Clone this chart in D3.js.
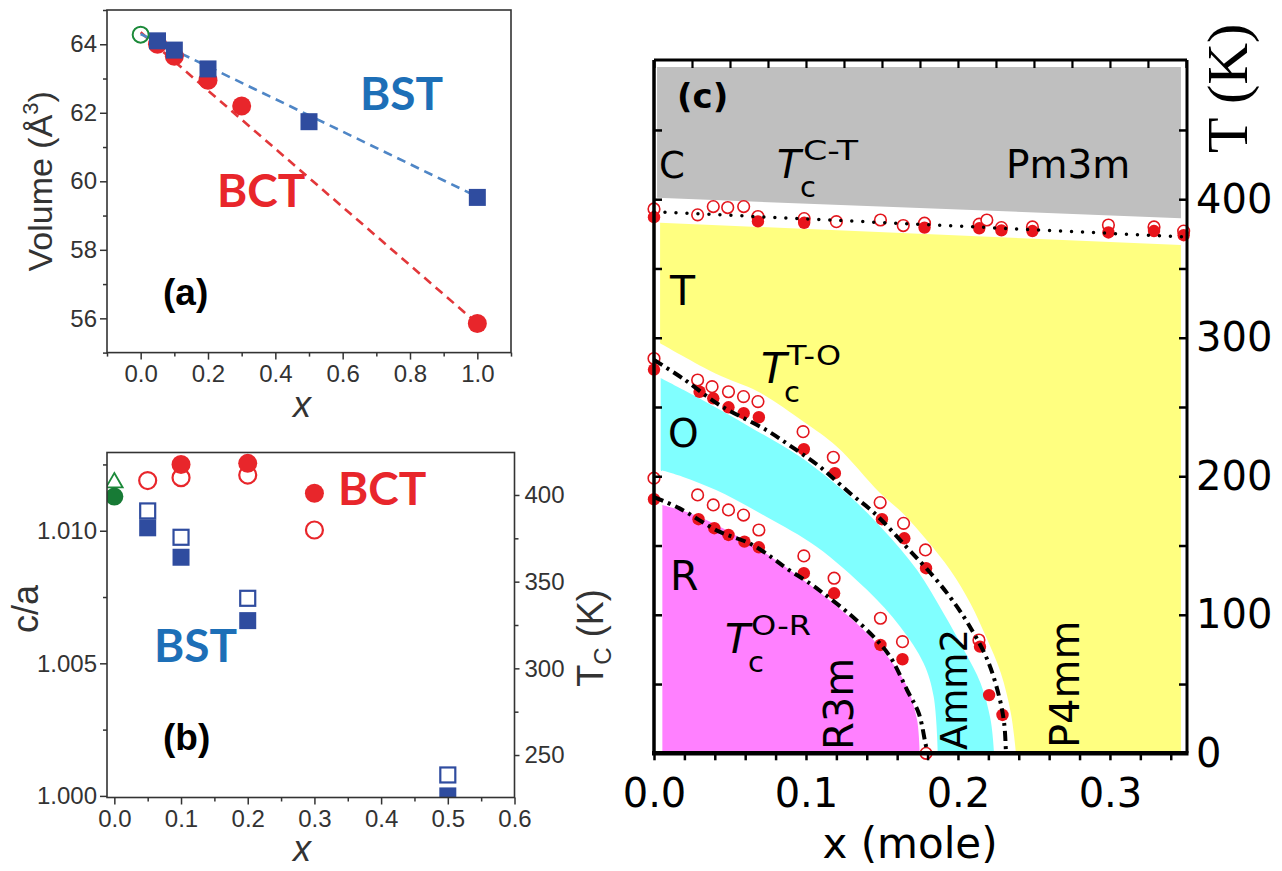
<!DOCTYPE html>
<html>
<head>
<meta charset="utf-8">
<script src="https://cdn.jsdelivr.net/npm/d3@7/dist/d3.min.js"></script>
<style>
  html,body{margin:0;padding:0;background:#fff;}
  svg{display:block;}
</style>
</head>
<body>
<svg id="fig" width="1282" height="871"></svg>
<script>
/* ---------------- (a) unit-cell volume vs x ---------------- */
const aBctX = [0.05, 0.1, 0.2, 0.3, 1.0];
const aBctV = [64.0, 63.65, 62.95, 62.2, 55.85];
const aBstX = [0.05, 0.1, 0.2, 0.5, 1.0];
const aBstV = [64.1, 63.83, 63.28, 61.74, 59.53];
const aBtX = [0.0];
const aBtV = [64.28];
const aFitX = [0.0, 1.0];
const aFitBct = [64.35, 55.85];
const aFitBst = [64.3, 59.55];
const aXTicks = [0, 0.2, 0.4, 0.6, 0.8, 1.0];
const aXMinor = [-0.1, 0.1, 0.3, 0.5, 0.7, 0.9, 1.1];
const aYTicks = [56, 58, 60, 62, 64];
const aYMinor = [55, 57, 59, 61, 63, 65];

/* ---------------- (b) tetragonality and Tc vs x ---------------- */
const bBctX = [0.1, 0.2, 0.3];
const bBctCa = [1.0125, 1.01254, 1.01141];
const bBctTcX = [0.05, 0.1, 0.2, 0.3];
const bBctTc = [408.3, 410.0, 411.5, 379.8];
const bBstX = [0.05, 0.1, 0.2, 0.5];
const bBstCa = [1.01011, 1.0090, 1.00661, 1.0000];
const bBstTcX = [0.05, 0.1, 0.2, 0.5];
const bBstTc = [390.8, 375.6, 340.4, 238.5];
const bBtX = [0.0];
const bBtCa = [1.01129];
const bBtTc = [407.1];
const bXTicks = [0, 0.1, 0.2, 0.3, 0.4, 0.5, 0.6];
const bXMinor = [0.05, 0.15, 0.25, 0.35, 0.45, 0.55];
const bYTicks = [1.000, 1.005, 1.010];
const bYMinor = [1.0025, 1.0075, 1.0125];
const bTcTicks = [250, 300, 350, 400];
const bTcMinor = [275, 325, 375];

/* ---------------- (c) phase diagram T vs x ---------------- */
// phase-field outlines
const cubicX = [0.002, 0.3467];
const cubicTop = [495.5, 495.5];
const cubicBottom = [401, 386.3];
const tetraX = [0.004, 0.3467];
const tetraTop = [383, 367];
const tetraEdgeX = [0.004, 0.0408, 0.0686, 0.0982, 0.1202, 0.1487, 0.164, 0.1794, 0.1951, 0.2083, 0.2189, 0.2282, 0.2348, 0.2381];
const tetraEdgeT = [296, 274, 261, 239.5, 221.5, 188, 173, 154, 132, 108, 83, 58, 29, 1.5];
const orthoTopX = [0.0044, 0.0298, 0.0628, 0.0959, 0.129, 0.151, 0.1731, 0.1906, 0.2039, 0.2149, 0.2215, 0.2237];
const orthoTopT = [271, 256.3, 235.8, 214.2, 185.3, 161.2, 132.3, 101, 74.6, 50.5, 24, 1.5];
const orthoLowX = [0.0044, 0.0187, 0.0408, 0.0739, 0.107, 0.1401, 0.162, 0.1774, 0.184, 0.1867];
const orthoLowT = [204.5, 199.7, 190, 170.8, 149.2, 118, 91.4, 65, 41, 1.5];
const rhomboX = [0.0055, 0.0298, 0.0628, 0.0893, 0.1179, 0.1401, 0.1554, 0.1665, 0.1731, 0.1748];
const rhomboT = [179.3, 170.8, 151.6, 132.3, 108.3, 86.6, 67.4, 48.1, 24, 1.5];
const phaseFloor = 1.5;
// transition lines
const ctLineX = [0, 0.3507];
const ctLineT = [391, 372.7];
const toLineX = [0, 0.0187, 0.043, 0.0738, 0.0904, 0.109, 0.129, 0.1444, 0.1665, 0.184, 0.1962, 0.2072, 0.2194, 0.2271, 0.2304, 0.2315];
const toLineT = [284, 270.8, 251.5, 233.4, 221.4, 207, 187.7, 174, 148.5, 127.5, 110.7, 92.6, 67.4, 40.9, 21.7, 2];
const orLineX = [0, 0.0165, 0.043, 0.0628, 0.0783, 0.0871, 0.1025, 0.1114, 0.1268, 0.1444, 0.1554, 0.1665, 0.1742, 0.1786, 0.180];
const orLineT = [185, 177, 160, 151.6, 140.8, 133.6, 122.7, 115.5, 102.2, 84.2, 69.7, 45.7, 28.9, 7.2, 0];
// measured transition temperatures
const ctOpenX = [0, 0.0287, 0.039, 0.0485, 0.059, 0.0684, 0.0988, 0.120, 0.149, 0.164, 0.178, 0.214, 0.219, 0.2286, 0.249, 0.299, 0.329, 0.3485];
const ctOpenT = [393, 388.7, 394.7, 394, 394.7, 387.5, 386, 383.8, 385, 381, 382.7, 382, 385, 379.5, 380, 381.4, 380, 377];
const ctFillX = [0, 0.0684, 0.0988, 0.178, 0.214, 0.2286, 0.249, 0.299, 0.329, 0.3485];
const ctFillT = [387, 384, 383, 379.5, 379, 377.5, 377, 376, 377, 374];
const toOpenX = [0, 0.0287, 0.0382, 0.049, 0.0589, 0.0684, 0.0981, 0.118, 0.1488, 0.1642, 0.1786, 0.2138];
const toOpenT = [285, 269.5, 264.7, 261, 257.5, 253.9, 232.2, 213.7, 181, 166, 146.8, 81.8];
const toFillX = [0, 0.03, 0.039, 0.049, 0.059, 0.069, 0.0986, 0.119, 0.150, 0.1647, 0.179, 0.2145, 0.2205, 0.2293];
const toFillT = [277, 261, 256.3, 249.8, 245.5, 242.6, 219.5, 202.2, 169, 155.2, 133.6, 77, 42, 27.7];
const orOpenX = [0, 0.0287, 0.039, 0.049, 0.0589, 0.069, 0.0986, 0.1185, 0.149, 0.1635, 0.179];
const orOpenT = [198.6, 186.5, 179.3, 175.7, 172, 161.2, 142.5, 126.4, 97.5, 80.6, 0];
const orFillX = [0, 0.0293, 0.0397, 0.049, 0.0595, 0.069, 0.0986, 0.1185, 0.149, 0.1635];
const orFillT = [183.4, 169, 162.5, 157.6, 152.8, 148.7, 130, 115.5, 78.2, 67.9];
const cXLabels = [0, 0.1, 0.2, 0.3];
const cXTicks = d3.range(0, 0.341, 0.02);
const cXTopTicks = d3.range(0, 0.351, 0.025);
const cTLabels = [0, 100, 200, 300, 400];
const cTTicks = [50, 100, 150, 200, 250, 300, 350, 400, 450];

/* ---------------- styling ---------------- */
const AX = "#333";
const SANS = "'Liberation Sans', Arial, sans-serif";
const CAL = "Lato, 'Liberation Sans', sans-serif";
const DJ = "'DejaVu Sans', sans-serif";
const RED = "#e8262b", NAVY = "#2f4c9f", BLUE_TXT = "#1d6fb7", GREEN = "#1c8a3a";

const svg = d3.select("#fig");
const defs = svg.append("defs");
const zip = (xs, ys) => xs.map((x, i) => [x, ys[i]]);

function styleAxis(g, font, size, color, w) {
  g.select(".domain").remove();
  g.selectAll("line").attr("stroke", color).attr("stroke-width", w || 1.5);
  g.selectAll("text").attr("font-family", font).attr("font-size", size).attr("fill", color);
}
function frame(g, xs, ys, color, w) {
  const [x0, x1] = xs.range(), [y0, y1] = ys.range();
  g.append("rect").attr("x", Math.min(x0, x1)).attr("y", Math.min(y0, y1))
    .attr("width", Math.abs(x1 - x0)).attr("height", Math.abs(y1 - y0))
    .attr("fill", "none").attr("stroke", color).attr("stroke-width", w);
}
function clipFor(id, xs, ys) {
  const [x0, x1] = xs.range(), [y0, y1] = ys.range();
  defs.append("clipPath").attr("id", id).append("rect")
    .attr("x", x0).attr("y", y1).attr("width", x1 - x0).attr("height", y0 - y1);
}
function label(g, txt, x, y, opt) {
  const t = g.append("text").attr("x", x).attr("y", y).text(txt)
    .attr("font-family", opt.font).attr("font-size", opt.size)
    .attr("fill", opt.fill || "#000");
  if (opt.weight) t.attr("font-weight", opt.weight);
  if (opt.style) t.attr("font-style", opt.style);
  if (opt.anchor) t.attr("text-anchor", opt.anchor);
  return t;
}

/* ================= panel (a) ================= */
const xA = d3.scaleLinear([-0.1, 1.1], [107, 511]);
const yA = d3.scaleLinear([55, 65], [352.6, 10]);
const gA = svg.append("g");
clipFor("clipA", xA, yA);

gA.append("g").attr("transform", `translate(0,${yA.range()[0]})`)
  .call(d3.axisBottom(xA).tickValues(aXTicks).tickSize(7).tickPadding(5).tickFormat(d3.format(".1f")))
  .call(g => styleAxis(g, SANS, 24, AX));
gA.append("g").attr("transform", `translate(0,${yA.range()[0]})`)
  .call(d3.axisBottom(xA).tickValues(aXMinor).tickSize(4).tickFormat(""))
  .call(g => styleAxis(g, SANS, 24, AX));
gA.append("g").attr("transform", `translate(${xA.range()[0]},0)`)
  .call(d3.axisLeft(yA).tickValues(aYTicks).tickSize(7).tickPadding(3).tickFormat(d3.format("d")))
  .call(g => styleAxis(g, SANS, 24, AX));
gA.append("g").attr("transform", `translate(${xA.range()[0]},0)`)
  .call(d3.axisLeft(yA).tickValues(aYMinor).tickSize(4).tickFormat(""))
  .call(g => styleAxis(g, SANS, 24, AX));

const lineA = d3.line().x(d => xA(d[0])).y(d => yA(d[1]));
const pA = gA.append("g").attr("clip-path", "url(#clipA)");
pA.append("path").attr("d", lineA(zip(aFitX, aFitBct))).attr("fill", "none")
  .attr("stroke", "#e2373a").attr("stroke-width", 2.6).attr("stroke-dasharray", "9 6");
pA.append("path").attr("d", lineA(zip(aFitX, aFitBst))).attr("fill", "none")
  .attr("stroke", "#4f86c6").attr("stroke-width", 2.6).attr("stroke-dasharray", "9 6");
pA.selectAll("circle.bct").data(zip(aBctX, aBctV)).join("circle")
  .attr("cx", d => xA(d[0])).attr("cy", d => yA(d[1])).attr("r", 9.5).attr("fill", RED);
pA.selectAll("rect.bst").data(zip(aBstX, aBstV)).join("rect")
  .attr("x", d => xA(d[0]) - 8.5).attr("y", d => yA(d[1]) - 8.5)
  .attr("width", 17).attr("height", 17).attr("fill", NAVY);
pA.selectAll("circle.bt").data(zip(aBtX, aBtV)).join("circle")
  .attr("cx", d => xA(d[0])).attr("cy", d => yA(d[1])).attr("r", 8)
  .attr("fill", "none").attr("stroke", GREEN).attr("stroke-width", 2);
frame(gA, xA, yA, AX, 1.6);

const volLab = gA.append("text")
  .attr("transform", `translate(52,${(yA.range()[0] + yA.range()[1]) / 2}) rotate(-90)`)
  .attr("text-anchor", "middle").attr("font-family", SANS).attr("font-size", 34).attr("fill", AX);
volLab.append("tspan").text("Volume (Å");
volLab.append("tspan").text("3").attr("font-size", 22).attr("dy", -14);
volLab.append("tspan").text(")").attr("dy", 14);
label(gA, "x", 302, 417, { font: SANS, size: 36, style: "italic", anchor: "middle", fill: AX });
label(gA, "BST", 360, 110, { font: CAL, size: 46, weight: 700, fill: BLUE_TXT });
label(gA, "BCT", 217, 207, { font: CAL, size: 46, weight: 700, fill: RED });
label(gA, "(a)", 163, 305, { font: SANS, size: 37, weight: 700 });

/* ================= panel (b) ================= */
const xB = d3.scaleLinear([-0.011, 0.6], [107, 514.5]);
const yB = d3.scaleLinear([0.99994, 1.01295], [797.5, 452.5]);
const tB = d3.scaleLinear([225.5, 424.5], [797.5, 452.5]);
const gB = svg.append("g");
clipFor("clipB", xB, yB);

gB.append("g").attr("transform", `translate(0,${yB.range()[0]})`)
  .call(d3.axisBottom(xB).tickValues(bXTicks).tickSize(7).tickPadding(5).tickFormat(d3.format(".1f")))
  .call(g => styleAxis(g, SANS, 24, AX));
gB.append("g").attr("transform", `translate(0,${yB.range()[0]})`)
  .call(d3.axisBottom(xB).tickValues(bXMinor).tickSize(4).tickFormat(""))
  .call(g => styleAxis(g, SANS, 24, AX));
gB.append("g").attr("transform", `translate(${xB.range()[0]},0)`)
  .call(d3.axisLeft(yB).tickValues(bYTicks).tickSize(7).tickPadding(3).tickFormat(d3.format(".3f")))
  .call(g => styleAxis(g, SANS, 24, AX));
gB.append("g").attr("transform", `translate(${xB.range()[0]},0)`)
  .call(d3.axisLeft(yB).tickValues(bYMinor).tickSize(4).tickFormat(""))
  .call(g => styleAxis(g, SANS, 24, AX));
gB.append("g").attr("transform", `translate(${xB.range()[1]},0)`)
  .call(d3.axisRight(tB).tickValues(bTcTicks).tickSize(5).tickPadding(5).tickFormat(d3.format("d")))
  .call(g => styleAxis(g, SANS, 24, AX));
gB.append("g").attr("transform", `translate(${xB.range()[1]},0)`)
  .call(d3.axisRight(tB).tickValues(bTcMinor).tickSize(4).tickFormat(""))
  .call(g => styleAxis(g, SANS, 24, AX));

const pB = gB.append("g").attr("clip-path", "url(#clipB)");
// open symbols: Tc on the right axis
pB.selectAll("circle.tcbct").data(zip(bBctTcX, bBctTc)).join("circle")
  .attr("cx", d => xB(d[0])).attr("cy", d => tB(d[1])).attr("r", 8.5)
  .attr("fill", "none").attr("stroke", RED).attr("stroke-width", 2.2);
pB.selectAll("rect.tcbst").data(zip(bBstTcX, bBstTc)).join("rect")
  .attr("x", d => xB(d[0]) - 7.5).attr("y", d => tB(d[1]) - 7.5)
  .attr("width", 15).attr("height", 15)
  .attr("fill", "none").attr("stroke", NAVY).attr("stroke-width", 2.2);
pB.selectAll("path.tcbt").data(zip(bBtX, bBtTc)).join("path")
  .attr("transform", d => `translate(${xB(d[0])},${tB(d[1])})`)
  .attr("d", d3.symbol(d3.symbolTriangle).size(120)())
  .attr("fill", "none").attr("stroke", GREEN).attr("stroke-width", 1.8);
// filled symbols: c/a on the left axis
pB.selectAll("circle.cabct").data(zip(bBctX, bBctCa)).join("circle")
  .attr("cx", d => xB(d[0])).attr("cy", d => yB(d[1])).attr("r", 9.5).attr("fill", RED);
pB.selectAll("rect.cabst").data(zip(bBstX, bBstCa)).join("rect")
  .attr("x", d => xB(d[0]) - 8.5).attr("y", d => yB(d[1]) - 8.5)
  .attr("width", 17).attr("height", 17).attr("fill", NAVY);
pB.selectAll("circle.cabt").data(zip(bBtX, bBtCa)).join("circle")
  .attr("cx", d => xB(d[0])).attr("cy", d => yB(d[1])).attr("r", 9).attr("fill", "#177a35");
frame(gB, xB, yB, AX, 1.6);

gB.append("text").attr("transform", `translate(38,609) rotate(-90)`)
  .attr("text-anchor", "middle").attr("font-family", SANS).attr("font-size", 36).attr("fill", AX)
  .text("c/a");
label(gB, "x", 302, 861, { font: SANS, size: 36, style: "italic", anchor: "middle", fill: AX });
const tcLab = gB.append("text").attr("transform", `translate(603,638) rotate(-90)`)
  .attr("text-anchor", "middle").attr("font-family", SANS).attr("font-size", 36).attr("fill", AX);
tcLab.append("tspan").text("T");
tcLab.append("tspan").text("C").attr("font-size", 24).attr("dy", 8);
tcLab.append("tspan").text(" (K)").attr("dy", -8);
label(gB, "BCT", 338, 505, { font: CAL, size: 46, weight: 700, fill: RED });
label(gB, "BST", 154, 662, { font: CAL, size: 46, weight: 700, fill: BLUE_TXT });
label(gB, "(b)", 163, 750, { font: SANS, size: 37, weight: 700 });

/* ================= panel (c) ================= */
const xC = d3.scaleLinear([0, 0.3507], [654, 1187]);
const yC = d3.scaleLinear([0, 500.5], [753.3, 60]);
const gC = svg.append("g");

const straight = d3.line().x(d => xC(d[0])).y(d => yC(d[1]));
const smooth = d3.line().x(d => xC(d[0])).y(d => yC(d[1])).curve(d3.curveCatmullRom.alpha(0.5));
function region(parts) {
  let d = "";
  parts.forEach((p, i) => {
    let s = (p.curved ? smooth : straight)(p.pts);
    if (i > 0) s = "L" + s.slice(1);
    d += s;
  });
  return d + "Z";
}
const xRight = cubicX[1];
// cubic (gray)
gC.append("path").attr("fill", "#bfbfbf").attr("d", region([
  { pts: zip(cubicX, cubicTop) },
  { pts: zip(cubicX.slice().reverse(), cubicBottom.slice().reverse()) }
]));
// tetragonal (yellow)
const tEdge = zip(tetraEdgeX, tetraEdgeT);
gC.append("path").attr("fill", "#ffff80").attr("d", region([
  { pts: zip(tetraX, tetraTop) },
  { pts: [[xRight, phaseFloor], [tetraEdgeX[tetraEdgeX.length - 1], phaseFloor]] },
  { pts: tEdge.slice().reverse(), curved: true }
]));
// orthorhombic (cyan)
gC.append("path").attr("fill", "#80ffff").attr("d", region([
  { pts: zip(orthoTopX, orthoTopT), curved: true },
  { pts: [[orthoLowX[orthoLowX.length - 1], phaseFloor]] },
  { pts: zip(orthoLowX, orthoLowT).reverse(), curved: true }
]));
// rhombohedral (magenta)
gC.append("path").attr("fill", "#ff80ff").attr("d", region([
  { pts: zip(rhomboX, rhomboT), curved: true },
  { pts: [[rhomboX[0], phaseFloor]] }
]));

// measured points
const openStyle = s => s.attr("r", 5.8).attr("fill", "#fff").attr("stroke", "#e3161d").attr("stroke-width", 1.6);
const fillStyle = s => s.attr("r", 6.2).attr("fill", "#e8141b");
function dots(xs, ts, styler) {
  gC.append("g").selectAll("circle").data(zip(xs, ts)).join("circle")
    .attr("cx", d => xC(d[0])).attr("cy", d => yC(d[1])).call(styler);
}
dots(ctOpenX, ctOpenT, openStyle);
dots(ctFillX, ctFillT, fillStyle);
dots(toOpenX, toOpenT, openStyle);
dots(toFillX, toFillT, fillStyle);
dots(orOpenX, orOpenT, openStyle);
dots(orFillX, orFillT, fillStyle);

// transition lines
gC.append("path").attr("d", straight(zip(ctLineX, ctLineT))).attr("fill", "none")
  .attr("stroke", "#000").attr("stroke-width", 3.5).attr("stroke-linecap", "round")
  .attr("stroke-dasharray", "0 11");
[[toLineX, toLineT], [orLineX, orLineT]].forEach(([xs, ts]) => {
  gC.append("path").attr("d", smooth(zip(xs, ts))).attr("fill", "none")
    .attr("stroke", "#000").attr("stroke-width", 4).attr("stroke-dasharray", "10 5 3 5");
});

// axes and frame
gC.append("g").attr("transform", `translate(0,${yC.range()[0]})`)
  .call(d3.axisBottom(xC).tickValues(cXTicks).tickSize(7).tickFormat(""))
  .call(g => styleAxis(g, DJ, 40, "#000", 2.5));
gC.append("g").attr("transform", `translate(0,${yC.range()[0]})`)
  .call(d3.axisBottom(xC).tickValues(cXLabels).tickSize(0).tickPadding(25).tickFormat(d3.format(".1f")))
  .call(g => styleAxis(g, DJ, 40, "#000"));
gC.append("g").attr("transform", `translate(0,${yC.range()[1]})`)
  .call(d3.axisTop(xC).tickValues(cXTopTicks).tickSize(-8).tickFormat(""))
  .call(g => styleAxis(g, DJ, 40, "#000", 2.2));
gC.append("g").attr("transform", `translate(${xC.range()[0]},0)`)
  .call(d3.axisLeft(yC).tickValues(cTTicks).tickSize(-8).tickFormat(""))
  .call(g => styleAxis(g, DJ, 40, "#000", 2.5));
gC.append("g").attr("transform", `translate(${xC.range()[1]},0)`)
  .call(d3.axisRight(yC).tickValues(cTTicks).tickSize(-8).tickFormat(""))
  .call(g => styleAxis(g, DJ, 40, "#000", 2.5));
gC.append("g").attr("transform", `translate(${xC.range()[1]},0)`)
  .call(d3.axisRight(yC).tickValues(cTLabels).tickSize(0).tickPadding(9).tickFormat(d3.format("d")))
  .call(g => styleAxis(g, DJ, 40, "#000"));
const [cx0, cx1] = xC.range(), [cy0, cy1] = yC.range();
gC.append("line").attr("x1", cx0).attr("x2", cx1).attr("y1", cy1).attr("y2", cy1).attr("stroke", "#000").attr("stroke-width", 3);
gC.append("line").attr("x1", cx1).attr("x2", cx1).attr("y1", cy1).attr("y2", cy0).attr("stroke", "#000").attr("stroke-width", 3);
gC.append("line").attr("x1", cx0).attr("x2", cx0).attr("y1", cy1).attr("y2", cy0).attr("stroke", "#000").attr("stroke-width", 3.5);
gC.append("line").attr("x1", cx0 - 2).attr("x2", cx1 + 1.5).attr("y1", cy0).attr("y2", cy0).attr("stroke", "#000").attr("stroke-width", 4.5);

// labels
label(gC, "(c)", 677, 108, { font: DJ, size: 34, weight: 700 });
label(gC, "C", 659, 178, { font: DJ, size: 37 });
label(gC, "Pm3m", 1006, 178, { font: DJ, size: 39 });
label(gC, "T", 670, 305, { font: DJ, size: 41 });
label(gC, "O", 668, 447, { font: DJ, size: 39 });
label(gC, "R", 670, 590, { font: DJ, size: 41 });
function tcSym(x, y, tSize, sup, supLen) {
  label(gC, "T", x, y, { font: DJ, size: tSize, style: "italic" });
  label(gC, "c", x + 23, y + 19, { font: DJ, size: 29 });
  label(gC, sup, x + 26, y - 18, { font: DJ, size: 27 })
    .attr("textLength", supLen).attr("lengthAdjust", "spacingAndGlyphs");
}
tcSym(777, 178, 39, "C-T", 55);
tcSym(761, 383, 42, "T-O", 54);
tcSym(725, 653, 41, "O-R", 60);
function vText(txt, x, y, size) {
  gC.append("text").attr("transform", `translate(${x},${y}) rotate(-90)`)
    .attr("font-family", DJ).attr("font-size", size).text(txt);
}
vText("R3m", 853, 750, 40);
vText("Amm2", 967, 750, 37);
vText("P4mm", 1079, 748, 40);
label(gC, "x (mole)", 910, 858, { font: DJ, size: 42, anchor: "middle" });
gC.append("text").attr("transform", `translate(1247,153) rotate(-90)`)
  .attr("font-family", "'Liberation Serif', 'Times New Roman', serif").attr("font-size", 58)
  .text("T (K)");
</script>
</body>
</html>
